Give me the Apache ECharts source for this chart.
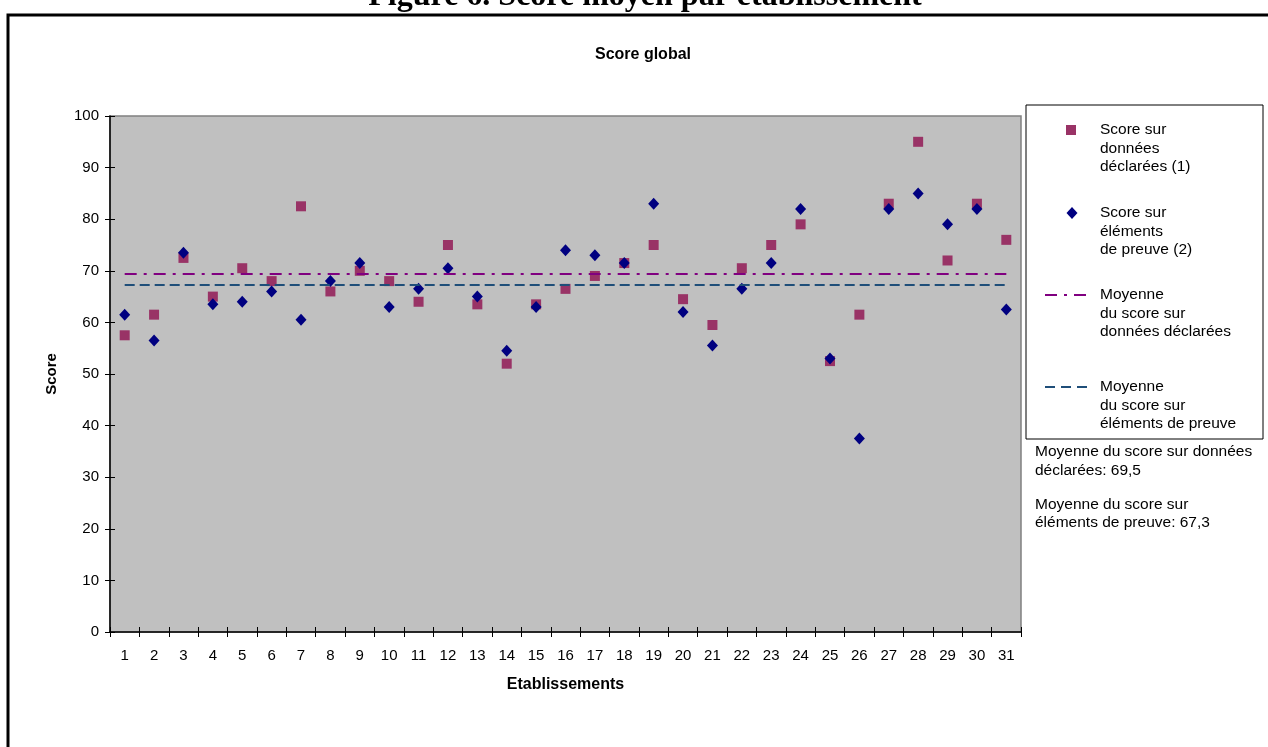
<!DOCTYPE html>
<html>
<head>
<meta charset="utf-8">
<script src="https://cdn.jsdelivr.net/npm/echarts@6/dist/echarts.min.js"></script>
<style>
html,body{margin:0;padding:0;background:#fff;}
#c{width:1268px;height:747px;}
</style>
</head>
<body>
<div id="c"></div>
<script>
const categories = ['1','2','3','4','5','6','7','8','9','10','11','12','13','14','15','16','17','18','19','20','21','22','23','24','25','26','27','28','29','30','31'];
const scoreDeclare = [57.5,61.5,72.5,65,70.5,68,82.5,66,70,68,64,75,63.5,52,63.5,66.5,69,71.5,75,64.5,59.5,70.5,75,79,52.5,61.5,83,95,72,83,76];
const scorePreuve = [61.5,56.5,73.5,63.5,64,66,60.5,68,71.5,63,66.5,70.5,65,54.5,63,74,73,71.5,83,62,55.5,66.5,71.5,82,53,37.5,82,85,79,82,62.5];
const meanDeclare = 69.5;
const meanPreuve = 67.3;
const yTicks = [0,10,20,30,40,50,60,70,80,90,100];

const FONT = 'Liberation Sans, Arial, sans-serif';
const chart = echarts.init(document.getElementById('c'));

const legendX = 1100, lh = 18.5;
function txt(x, y, s, extra) {
  return Object.assign({type:'text', x:x, y:y, style:{text:s, font:'15.5px ' + FONT, fill:'#000', textVerticalAlign:'middle', textAlign:'left'}}, extra||{});
}

const option = {
  animation:false,
  backgroundColor:'#fff',
  grid:{left:110, right:247, top:116, bottom:115, show:true, backgroundColor:'#C0C0C0', borderColor:'#808080', borderWidth:1.5},
  xAxis:[{
    type:'category', data:categories, boundaryGap:true,
    axisLine:{lineStyle:{color:'#000', width:1.5}},
    axisTick:{show:true, length:5, lineStyle:{color:'#000'}},
    axisLabel:{color:'#000', fontSize:15, fontFamily:FONT, margin:16},
    name:'Etablissements', nameLocation:'middle', nameGap:45,
    nameTextStyle:{color:'#000', fontSize:16, fontWeight:'bold', fontFamily:FONT},
    splitLine:{show:false}
  },{
    type:'category', data:categories, boundaryGap:true, position:'bottom',
    axisLine:{show:false}, axisLabel:{show:false},
    axisTick:{show:true, inside:true, length:5, lineStyle:{color:'#000'}}
  }],
  yAxis:[{
    type:'value', min:0, max:100, interval:10,
    axisLine:{show:true, lineStyle:{color:'#000', width:1.5}},
    axisTick:{show:true, length:5, lineStyle:{color:'#000'}},
    axisLabel:{color:'#000', fontSize:15, fontFamily:FONT, margin:11},
    splitLine:{show:false},
    name:'Score', nameLocation:'middle', nameGap:51,
    nameTextStyle:{color:'#000', fontSize:15, fontWeight:'bold', fontFamily:FONT}
  },{
    type:'value', min:0, max:100, interval:10, position:'left',
    axisLine:{show:false}, axisLabel:{show:false}, splitLine:{show:false},
    axisTick:{show:true, inside:true, length:5, lineStyle:{color:'#000'}}
  }],
  series:[
    {name:'Moyenne du score sur données déclarées', type:'line', data:[], z:1,
     markLine:{silent:true, symbol:'none', label:{show:false},
       lineStyle:{color:'#800080', width:2, type:[12,7,3,7]},
       data:[[{coord:[categories[0], meanDeclare]},{coord:[categories[categories.length-1], meanDeclare]}]]}},
    {name:'Moyenne du score sur éléments de preuve', type:'line', data:[], z:1,
     markLine:{silent:true, symbol:'none', label:{show:false},
       lineStyle:{color:'#1F4E79', width:2, type:[10,5]},
       data:[[{coord:[categories[0], meanPreuve]},{coord:[categories[categories.length-1], meanPreuve]}]]}},
    {name:'Score sur données déclarées (1)', type:'scatter', data:scoreDeclare, symbol:'rect', symbolSize:10, z:3,
     itemStyle:{color:'#993366', opacity:1}},
    {name:'Score sur éléments de preuve (2)', type:'scatter', data:scorePreuve, symbol:'diamond', symbolSize:[11,12], z:4,
     itemStyle:{color:'#000080', opacity:1}}
  ],
  graphic:[
    {type:'polyline', shape:{points:[[8,760],[8,15],[1280,15]]}, style:{stroke:'#000', lineWidth:3, fill:null}},
    {type:'text', x:645, y:13, style:{text:'Figure 6. Score moyen par établissement', font:'bold 32px Liberation Serif, Times New Roman, serif', fill:'#000', textAlign:'center', textVerticalAlign:'bottom'}},
    {type:'text', x:643, y:55, style:{text:'Score global', font:'bold 16px ' + FONT, fill:'#000', textAlign:'center', textVerticalAlign:'middle'}},
    {type:'rect', shape:{x:1026, y:105, width:237, height:334}, style:{fill:'#fff', stroke:'#000', lineWidth:1}},
    {type:'rect', shape:{x:1066, y:125, width:10, height:10}, style:{fill:'#993366'}},
    txt(legendX, 130, 'Score sur'), txt(legendX, 130+lh, 'données'), txt(legendX, 130+2*lh, 'déclarées (1)'),
    {type:'polygon', shape:{points:[[1072,207],[1077.5,213],[1072,219],[1066.5,213]]}, style:{fill:'#000080'}},
    txt(legendX, 213, 'Score sur'), txt(legendX, 213+lh, 'éléments'), txt(legendX, 213+2*lh, 'de preuve (2)'),
    {type:'line', shape:{x1:1045, y1:295, x2:1093, y2:295}, style:{stroke:'#800080', lineWidth:2, lineDash:[12,7,3,7]}},
    txt(legendX, 295, 'Moyenne'), txt(legendX, 295+lh, 'du score sur'), txt(legendX, 295+2*lh, 'données déclarées'),
    {type:'line', shape:{x1:1045, y1:387, x2:1093, y2:387}, style:{stroke:'#1F4E79', lineWidth:2, lineDash:[10,6]}},
    txt(legendX, 387, 'Moyenne'), txt(legendX, 387+lh, 'du score sur'), txt(legendX, 387+2*lh, 'éléments de preuve'),
    txt(1035, 452, 'Moyenne du score sur données'), txt(1035, 471, 'déclarées: 69,5'),
    txt(1035, 505, 'Moyenne du score sur'), txt(1035, 523, 'éléments de preuve: 67,3')
  ]
};
chart.setOption(option);
</script>
</body>
</html>
